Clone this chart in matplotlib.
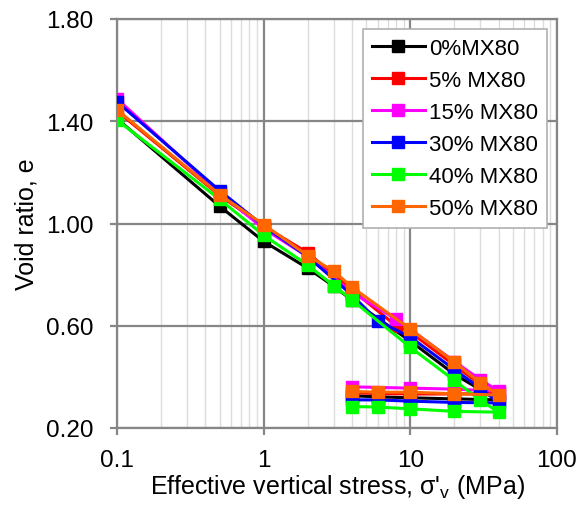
import matplotlib
matplotlib.use("Agg")
import matplotlib.pyplot as plt
from matplotlib.ticker import FixedLocator, NullFormatter, LogLocator

plt.rcParams['font.family'] = ['Liberation Sans', 'DejaVu Sans']
plt.rcParams['mathtext.fontset'] = 'custom'
plt.rcParams['mathtext.rm'] = 'Liberation Sans'

labels = ["0%MX80", "5% MX80", "15% MX80", "30% MX80", "40% MX80", "50% MX80"]
colors = ["#000000", "#ff0000", "#ff00ff", "#0000ff", "#00ff00", "#ff6600"]

# loading then unloading path (stress in MPa, void ratio)
x_0 = [0.1, 0.5, 1, 2, 3, 4, 10, 20, 30, 40, 20, 10, 6, 4]
e_0 = [1.41, 1.068, 0.930, 0.825, 0.755, 0.700, 0.540, 0.410, 0.350, 0.310, 0.314, 0.318, 0.322, 0.326]

x_5 = [0.1, 0.5, 1, 2, 4, 8, 10, 20, 30, 40, 20, 10, 6, 4]
e_5 = [1.440, 1.110, 0.990, 0.885, 0.740, 0.600, 0.575, 0.445, 0.370, 0.335, 0.333, 0.333, 0.335, 0.338]

x_15 = [0.1, 0.5, 1, 2, 4, 8, 20, 30, 40, 20, 10, 4]
e_15 = [1.488, 1.120, 0.980, 0.870, 0.730, 0.626, 0.460, 0.389, 0.344, 0.352, 0.356, 0.361]

x_30 = [0.1, 0.5, 1, 2, 4, 6, 10, 20, 30, 40, 20, 10, 6, 4]
e_30 = [1.476, 1.129, 0.990, 0.870, 0.720, 0.619, 0.556, 0.428, 0.356, 0.298, 0.300, 0.305, 0.310, 0.310]

x_40 = [0.1, 0.5, 1, 2, 3, 4, 10, 20, 30, 40, 20, 10, 6, 4]
e_40 = [1.405, 1.095, 0.954, 0.837, 0.757, 0.701, 0.516, 0.386, 0.309, 0.262, 0.265, 0.275, 0.282, 0.284]

x_50 = [0.1, 0.5, 1, 2, 3, 4, 10, 20, 30, 40, 20, 10, 6, 4]
e_50 = [1.445, 1.113, 0.996, 0.874, 0.814, 0.751, 0.587, 0.458, 0.376, 0.329, 0.334, 0.340, 0.340, 0.343]

xs = [x_0, x_5, x_15, x_30, x_40, x_50]
es = [e_0, e_5, e_15, e_30, e_40, e_50]

y_ticks = [0.20, 0.60, 1.00, 1.40, 1.80]
x_ticks = [0.1, 1, 10, 100]
x_ticklabels = ["0.1", "1", "10", "100"]

fig = plt.figure(figsize=(5.8, 5.06), dpi=100)
ax = fig.add_axes([117/580, 1-429/506, 440/580, 409/506])

for x, e, c, lab in zip(xs, es, colors, labels):
    ax.plot(x, e, color=c, lw=2.2, marker='s', ms=8, mec=c, mfc=c, label=lab, zorder=3)

ax.set_xscale('log')
ax.set_xlim(0.1, 100)
ax.set_ylim(0.2, 1.8)
ax.xaxis.set_major_locator(FixedLocator(x_ticks))
ax.set_xticklabels(x_ticklabels)
ax.xaxis.set_minor_locator(LogLocator(base=10, subs=range(2, 10)))
ax.xaxis.set_minor_formatter(NullFormatter())
ax.set_yticks(y_ticks)
ax.set_yticklabels([f"{v:.2f}" for v in y_ticks])

ax.grid(True, which='major', color='#868686', lw=1.6, zorder=1)
ax.grid(True, which='minor', axis='x', color='#dcdcdc', lw=1.0, zorder=0)
ax.set_axisbelow(True)

for s in ax.spines.values():
    s.set_color('#868686')
    s.set_linewidth(1.6)
ax.tick_params(which='major', direction='out', length=5, width=1.6, color='#868686',
               labelsize=17.5, labelcolor='black')
ax.tick_params(axis='x', pad=10)
ax.tick_params(axis='y', pad=12)
ax.tick_params(which='minor', length=0)

ax.set_xlabel("Effective vertical stress, σ'$_\\mathregular{v}$ (MPa)", fontsize=18, labelpad=1)
ax.set_ylabel("Void ratio, e", fontsize=18, labelpad=5)

leg = ax.legend(loc='upper right', bbox_to_anchor=(0.977, 0.976), borderaxespad=0,
                fontsize=16, fancybox=False, framealpha=1, edgecolor='#b0b0b0',
                handlelength=2.35, labelspacing=0.5, handletextpad=0.2, borderpad=0.4)
leg.get_frame().set_linewidth(1.2)

fig.savefig("out.png", dpi=100)
